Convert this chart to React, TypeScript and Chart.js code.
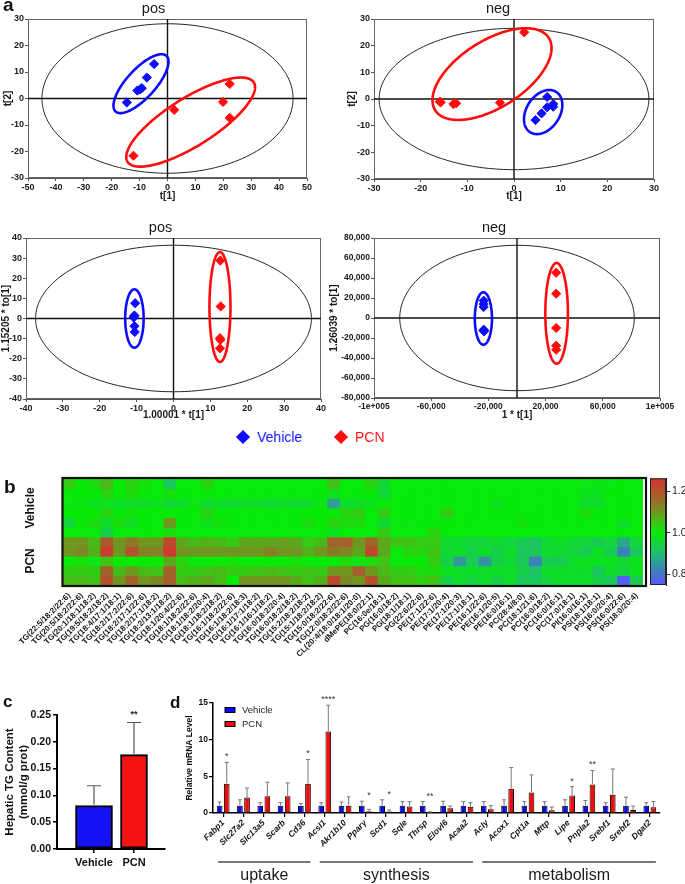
import React, { useEffect, useRef } from 'react';
import { Chart, registerables } from 'chart.js';

Chart.register(...registerables);

const FONT = "'Liberation Sans', Arial, Helvetica, sans-serif";
Chart.defaults.font.family = FONT;
Chart.defaults.color = '#1a1a1a';

// ================= Panel a : score plots =================
const posTopVehicle = [
  { x: -14.6, y: -1.5 }, { x: -10.8, y: 3.0 }, { x: -9.8, y: 3.5 },
  { x: -9.2, y: 3.9 }, { x: -7.4, y: 7.9 }, { x: -4.8, y: 13.0 },
];
const posTopPCN = [
  { x: -12.2, y: -21.6 }, { x: 2.4, y: -4.3 }, { x: 19.9, y: -1.3 },
  { x: 22.3, y: 5.5 }, { x: 22.3, y: -7.3 },
];
// ellipses: centre, end of one semi-axis, end of the other semi-axis (data units)
const posTopEllipses = [
  { group: 'all', c: [0, 0], a: [45, 0], b: [0, 28.2] },
  { group: 'Vehicle', c: [-9.5, 5.6], a: [-0.4, 16.1], b: [-5.7, 1.96] },
  { group: 'PCN', c: [8.3, -8.9], a: [30.9, 6.1], b: [13.0, -16.5] },
];

const negTopVehicle = [
  { x: 7.1, y: 0.75 }, { x: 4.6, y: -7.9 }, { x: 5.9, y: -5.4 },
  { x: 7.1, y: -3.1 }, { x: 8.4, y: -1.9 }, { x: 8.4, y: -2.9 },
];
const negTopPCN = [
  { x: -15.7, y: -1.25 }, { x: -15.9, y: -1.0 }, { x: -13.0, y: -1.9 },
  { x: -12.4, y: -1.6 }, { x: -3.0, y: -1.4 }, { x: 2.2, y: 25.0 },
];
const negTopEllipses = [
  { group: 'all', c: [0, 0], a: [28.9, 0], b: [0, 26.5] },
  { group: 'PCN', c: [-4.71, 9.34], a: [7.46, 22.9], b: [-0.88, -1.24] },
  { group: 'Vehicle', c: [6.25, -4.89], a: [9.07, 2.63], b: [9.24, -8.33] },
];

const posBotVehicle = [
  { x: -10.4, y: 7.6 }, { x: -10.6, y: 1.5 }, { x: -10.8, y: 0.5 },
  { x: -10.7, y: 1.0 }, { x: -10.6, y: -3.8 }, { x: -10.5, y: -6.7 },
];
const posBotPCN = [
  { x: 12.7, y: 28.8 }, { x: 12.8, y: 6.0 }, { x: 12.6, y: -9.8 },
  { x: 12.7, y: -10.6 }, { x: 12.6, y: -14.8 },
];
const posBotEllipses = [
  { group: 'all', c: [0, 0], a: [37.4, 0], b: [0, 36.4] },
  { group: 'Vehicle', c: [-10.6, 0], a: [-10.6, 14.5], b: [-8.1, 0] },
  { group: 'PCN', c: [12.6, 5.7], a: [12.6, 33.0], b: [15.45, 5.7] },
];

const negBotVehicle = [
  { x: -23300, y: 17300 }, { x: -23300, y: 14000 }, { x: -23300, y: 11000 },
  { x: -23300, y: -11700 }, { x: -23300, y: -12700 }, { x: -23000, y: -13300 },
];
const negBotPCN = [
  { x: 27400, y: 45300 }, { x: 27400, y: 24300 }, { x: 27400, y: -10000 },
  { x: 27400, y: -27700 }, { x: 27400, y: -31700 },
];
const negBotEllipses = [
  { group: 'all', c: [0, 0], a: [82000, 0], b: [0, 72700] },
  { group: 'Vehicle', c: [-23500, -500], a: [-23500, 25700], b: [-17500, -500] },
  { group: 'PCN', c: [27700, 4700], a: [27700, 55000], b: [35600, 4700] },
];

// ================= Panel b : heatmap =================
const lipidNames = [
  'TG(22:5/18:2/22:6)', 'TG(20:5/18:2/22:6)', 'TG(20:1/18:1/18:2)', 'TG(19:5/18:2/18:2)',
  'TG(18:4/17:1/18:1)', 'TG(18:2/17:2/22:6)', 'TG(18:2/17:1/22:6)', 'TG(18:2/17:1/18:2)',
  'TG(18:2/13:1/18:2)', 'TG(18:1/20:4/22:6)', 'TG(18:1/18:2/22:6)', 'TG(18:1/18:2/20:4)',
  'TG(18:1/18:2/18:2)', 'TG(16:1/18:2/22:6)', 'TG(16:1/18:2/18:3)', 'TG(16:1/17:1/18:2)',
  'TG(16:1/16:1/18:2)', 'TG(16:0/18:2/20:4)', 'TG(16:0/18:2/18:2)', 'TG(15:2/18:2/18:2)',
  'TG(15:1/18:2/18:2)', 'TG(15:0/18:2/22:6)', 'TG(12:0/18:2/22:6)', 'CL(20:4/18:0/18:1/20:0)',
  'dMePE(18:0/22:1)', 'PC(16:0e/18:1)', 'PG(16:0/18:2)', 'PG(18:1/18:1)', 'PG(22:6/22:6)',
  'PE(17:1/22:6)', 'PE(17:1/20:4)', 'PE(17:1/20:3)', 'PE(17:1/18:1)', 'PE(16:1/22:6)',
  'PE(16:1/20:5)', 'PE(16:0/16:1)', 'PC(28:4/8:0)', 'PC(18:1/21:6)', 'PC(16:0/18:2)',
  'PC(16:0/16:1)', 'PC(17:0/18:1)', 'PI(16:0/16:1)', 'PS(18:1/18:1)', 'PS(16:0/20:4)',
  'PS(16:0/22:6)', 'PS(18:0/20:4)',
];
const heatVehicle1 = [1.04, 1.0, 1.02, 1.06, 1.0, 1.03, 1.01, 1.0, 0.92, 1.0, 1.0, 1.03, 1.0, 1.0, 1.0, 1.0, 1.0, 1.0, 1.0, 1.0, 1.0, 1.05,
  1.0, 1.0, 1.03, 0.96, 1.0, 1.0, 1.0, 1.0, 1.0, 1.0, 1.0, 1.0, 1.0, 1.0, 1.0, 1.0, 1.0, 1.0, 1.0, 0.99, 0.99, 0.99, 1.0, 1.0];
const heatVehicle2 = [1.0, 1.0, 1.0, 1.03, 1.0, 1.02, 1.0, 1.0, 1.01, 1.0, 1.0, 1.0, 1.0, 1.0, 1.0, 1.0, 1.0, 1.0, 1.0, 1.0, 1.0, 0.98,
  1.0, 1.0, 1.0, 0.95, 1.0, 1.0, 1.0, 1.0, 1.0, 1.0, 1.0, 1.0, 1.0, 1.0, 1.0, 1.0, 1.0, 1.0, 1.0, 0.98, 0.98, 1.0, 1.0, 1.0];
const heatVehicle3 = [0.99, 0.99, 0.98, 0.98, 0.97, 0.97, 0.97, 0.98, 0.96, 0.97, 0.99, 0.96, 0.97, 0.96, 0.97, 0.97, 0.96, 0.97, 0.96, 0.97, 0.99, 0.86,
  0.97, 0.97, 0.98, 1.0, 1.0, 1.0, 1.0, 1.0, 1.0, 1.0, 1.0, 1.0, 0.98, 1.0, 1.0, 1.0, 1.0, 1.0, 1.0, 0.97, 0.97, 1.0, 1.0, 1.0];
const heatVehicle4 = [1.0, 1.0, 1.0, 1.03, 1.0, 1.01, 1.0, 1.0, 1.0, 1.0, 1.0, 1.03, 1.0, 1.0, 1.0, 1.0, 1.0, 1.0, 1.0, 1.0, 1.0, 1.0,
  1.03, 1.04, 1.0, 1.04, 1.0, 1.0, 1.0, 1.0, 1.04, 1.0, 1.0, 1.0, 1.0, 1.0, 1.0, 1.0, 1.0, 1.0, 1.0, 1.02, 1.0, 1.0, 1.0, 1.0];
const heatVehicle5 = [0.95, 1.0, 1.02, 0.97, 1.02, 0.97, 1.0, 1.0, 1.1, 1.0, 0.99, 0.98, 1.01, 1.0, 1.0, 1.0, 1.0, 1.0, 1.0, 1.02, 1.0, 1.03,
  1.02, 1.02, 1.0, 0.96, 0.99, 0.99, 1.0, 1.0, 1.0, 1.0, 1.0, 1.0, 1.0, 1.0, 1.01, 1.0, 1.0, 1.0, 1.0, 1.0, 1.0, 1.0, 0.97, 1.0];
const heatVehicle6 = [1.0, 1.0, 1.0, 0.94, 1.0, 1.0, 1.0, 1.0, 1.02, 1.0, 1.0, 1.0, 1.0, 1.0, 1.0, 1.0, 1.0, 1.0, 1.0, 1.0, 1.0, 0.98,
  1.0, 1.0, 1.0, 1.04, 1.0, 1.0, 1.0, 1.03, 1.0, 1.0, 1.0, 1.0, 1.0, 1.0, 1.0, 1.0, 1.0, 1.0, 1.0, 1.0, 1.0, 1.0, 1.0, 1.0];
const heatPCN1 = [1.1, 1.1, 1.06, 1.19, 1.1, 1.14, 1.1, 1.1, 1.22, 1.08, 1.06, 1.07, 1.06, 1.04, 1.08, 1.08, 1.08, 1.09, 1.08, 1.04, 1.06, 1.17,
  1.18, 1.1, 1.17, 1.08, 1.05, 1.05, 1.04, 1.04, 0.96, 0.96, 0.95, 0.95, 0.96, 0.95, 0.93, 0.91, 0.96, 0.97, 0.96, 0.95, 0.93, 0.95, 0.87, 0.95];
const heatPCN2 = [1.1, 1.12, 1.07, 1.24, 1.1, 1.2, 1.13, 1.13, 1.25, 1.1, 1.1, 1.1, 1.1, 1.1, 1.1, 1.1, 1.13, 1.1, 1.1, 1.07, 1.1, 1.14,
  1.12, 1.08, 1.22, 1.08, 1.0, 1.03, 1.03, 1.05, 0.96, 0.97, 0.94, 0.97, 0.94, 0.97, 0.92, 0.92, 0.96, 0.96, 0.95, 0.93, 0.97, 0.93, 0.82, 0.92];
const heatPCN3 = [1.0, 1.01, 0.99, 1.05, 1.0, 1.0, 1.0, 1.0, 1.08, 1.03, 1.0, 1.0, 1.0, 1.01, 1.0, 1.0, 1.0, 1.0, 1.01, 1.0, 1.0, 1.0,
  1.02, 0.99, 1.02, 1.05, 1.0, 1.0, 1.0, 1.04, 0.94, 0.85, 0.93, 0.84, 0.94, 0.96, 0.92, 0.82, 0.93, 0.93, 0.97, 0.98, 0.98, 0.98, 0.96, 0.98];
const heatPCN4 = [1.04, 1.04, 1.04, 1.17, 1.06, 1.1, 1.06, 1.05, 1.17, 1.04, 1.04, 1.05, 1.06, 1.04, 1.04, 1.05, 1.06, 1.05, 1.04, 1.05, 1.04, 1.1,
  1.1, 1.18, 1.1, 1.06, 1.04, 1.04, 1.02, 1.02, 0.98, 0.97, 0.97, 0.97, 0.97, 0.97, 0.94, 0.91, 0.97, 0.97, 0.97, 0.97, 0.92, 0.97, 0.95, 0.98];
const heatPCN5 = [1.06, 1.06, 1.05, 1.2, 1.1, 1.17, 1.1, 1.12, 1.18, 1.06, 1.07, 1.08, 1.06, 1.0, 1.1, 1.1, 1.1, 1.1, 1.08, 1.05, 1.07, 1.22,
  1.12, 1.1, 1.2, 1.08, 1.05, 1.05, 1.04, 1.05, 0.94, 0.97, 0.95, 0.97, 0.94, 0.97, 0.92, 0.92, 0.95, 0.97, 0.97, 0.97, 0.94, 0.92, 0.76, 0.93];
const heatRows = [heatVehicle1, heatVehicle2, heatVehicle3, heatVehicle4, heatVehicle5, heatVehicle6,
  heatPCN1, heatPCN2, heatPCN3, heatPCN4, heatPCN5];
const heatRowGroups = [
  { label: 'Vehicle', from: 0, to: 6 },
  { label: 'PCN', from: 6, to: 11 },
];
const colorbarRange = [0.747, 1.263];
const colorbarTicks = [0.8, 1.0, 1.2];

// ================= Panel c =================
const tgGroups = ['Vehicle', 'PCN'];
const tgMean = [0.081, 0.176];
const tgSd = [0.037, 0.060];
const tgStars = ['', '**'];

// ================= Panel d =================
const genes = ['Fabp1', 'Slc27a2', 'Slc13a5', 'Scarb', 'Cd36', 'Acsl1', 'Akr1b10', 'Pparγ', 'Scd1', 'Sqle', 'Thrsp',
  'Elovl6', 'Acaa2', 'Acly', 'Acox1', 'Cpt1a', 'Mttp', 'Lipe', 'Pnpla2', 'Srebf1', 'Srebf2', 'Dgat2'];
const vehicleMrna = [1, 1, 1, 1, 1, 1, 1, 1, 1, 1, 1, 1, 1, 1, 1, 1, 1, 1, 1, 1, 1, 1];
const vehicleMrnaErr = [0.5, 0.8, 0.4, 0.4, 0.3, 0.4, 0.5, 0.6, 0.8, 0.55, 0.55, 0.6, 0.55, 0.55, 0.8, 0.55, 0.55, 0.8, 0.7, 0.4, 1.15, 0.4];
const pcnMrna = [4.0, 2.1, 2.3, 2.3, 4.0, 11.1, 1.0, 0.25, 0.2, 0.9, 0.05, 0.65, 0.85, 0.5, 3.3, 2.8, 0.36, 2.4, 3.9, 2.5, 0.4, 0.8];
const pcnMrnaErr = [2.9, 1.3, 1.9, 1.8, 3.3, 3.6, 1.2, 0.25, 0.2, 0.65, 0.1, 0.3, 0.55, 0.5, 2.9, 2.4, 0.45, 1.2, 1.9, 3.5, 0.55, 0.75];
const geneStars = ['*', '', '', '', '*', '****', '', '*', '*', '', '**', '', '', '', '', '', '', '*', '**', '', '', ''];
const geneGroups = [
  { label: 'uptake', first: 0, last: 4 },
  { label: 'synthesis', first: 5, last: 12 },
  { label: 'metabolism', first: 13, last: 21 },
];

// ================= styles =================
const BLUE = '#0c0cff';
const RED = '#ff0c0c';
const ellStyle: Record<string, { color: string; width: number }> = {
  all: { color: '#222', width: 1 },
  Vehicle: { color: BLUE, width: 2.6 },
  PCN: { color: RED, width: 2.6 },
};
const cmapStops: [number, number[]][] = [
  [0.75, [88, 88, 250]], [0.82, [60, 130, 185]], [0.9, [30, 190, 110]], [0.97, [14, 222, 40]],
  [1.0, [8, 235, 8]], [1.05, [62, 195, 22]], [1.1, [112, 150, 32]], [1.17, [160, 100, 42]], [1.25, [206, 56, 46]],
];
function heatColor(v: number): string {
  if (v <= cmapStops[0][0]) return `rgb(${cmapStops[0][1].join(',')})`;
  for (let i = 1; i < cmapStops.length; i++) {
    const [v1, c1] = cmapStops[i];
    if (v <= v1) {
      const [v0, c0] = cmapStops[i - 1];
      const t = (v - v0) / (v1 - v0);
      const c = c0.map((k, j) => Math.round(k + (c1[j] - k) * t));
      return `rgb(${c.join(',')})`;
    }
  }
  return `rgb(${cmapStops[cmapStops.length - 1][1].join(',')})`;
}

// ================= plugins =================
const pcaDecor = (ellipses: any[]) => ({
  id: 'pcaDecor',
  beforeDatasetsDraw(chart: any) {
    const { ctx, chartArea: ca, scales } = chart;
    const xs = scales.x, ys = scales.y;
    ctx.save();
    ctx.strokeStyle = '#666';
    ctx.lineWidth = 1;
    ctx.strokeRect(ca.left + 0.5, ca.top + 0.5, ca.right - ca.left - 1, ca.bottom - ca.top - 1);
    ctx.strokeStyle = '#111';
    ctx.lineWidth = 1.4;
    const x0 = xs.getPixelForValue(0), y0 = ys.getPixelForValue(0);
    ctx.beginPath();
    ctx.moveTo(ca.left, y0); ctx.lineTo(ca.right, y0);
    ctx.moveTo(x0, ca.top); ctx.lineTo(x0, ca.bottom);
    ctx.stroke();
    ellipses.forEach((e) => {
      const cx = xs.getPixelForValue(e.c[0]), cy = ys.getPixelForValue(e.c[1]);
      const ax = xs.getPixelForValue(e.a[0]) - cx, ay = ys.getPixelForValue(e.a[1]) - cy;
      const bx = xs.getPixelForValue(e.b[0]) - cx, by = ys.getPixelForValue(e.b[1]) - cy;
      ctx.beginPath();
      for (let k = 0; k <= 240; k++) {
        const t = (k / 240) * Math.PI * 2;
        const px = cx + ax * Math.cos(t) + bx * Math.sin(t);
        const py = cy + ay * Math.cos(t) + by * Math.sin(t);
        if (k === 0) ctx.moveTo(px, py); else ctx.lineTo(px, py);
      }
      ctx.closePath();
      const st = ellStyle[e.group];
      ctx.strokeStyle = st.color;
      ctx.lineWidth = st.width;
      ctx.stroke();
    });
    ctx.restore();
  },
});

function pcaConfig(p: any) {
  const tickFont = { size: p.tickSize, weight: 'bold' };
  const axis = (range: number[]) => ({
    type: 'linear', min: range[0], max: range[1],
    ticks: { stepSize: range[2], font: tickFont, color: '#1a1a1a', padding: 1, callback: p.fmt || ((v: number) => String(v)) },
    grid: { drawOnChartArea: false, tickLength: 3, color: '#555' },
    border: { color: '#555', width: 1 },
  });
  return {
    type: 'scatter',
    data: {
      datasets: [
        { label: 'Vehicle', data: p.vehicle, pointStyle: 'rectRot', pointRadius: 4.6, backgroundColor: BLUE, borderColor: BLUE, borderWidth: 1 },
        { label: 'PCN', data: p.pcn, pointStyle: 'rectRot', pointRadius: 4.6, backgroundColor: RED, borderColor: RED, borderWidth: 1 },
      ],
    },
    options: {
      responsive: false, animation: false, events: [],
      layout: { padding: { left: 0, top: 0, right: p.padRight, bottom: 0 } },
      plugins: {
        legend: { display: false }, tooltip: { enabled: false },
        title: { display: true, text: p.title, font: { size: 14.5, weight: 'normal' }, color: '#1a1a1a', padding: { top: 0, bottom: 1.6 } },
      },
      scales: {
        x: { ...axis(p.xRange), title: { display: true, text: p.xTitle, font: { size: 10, weight: 'bold' }, padding: 0 },
          afterFit: (s: any) => { s.height = p.xAxisH; } },
        y: { ...axis(p.yRange), title: { display: true, text: p.yTitle, font: { size: 10, weight: 'bold' }, padding: { top: p.yTitlePad, bottom: 0 } },
          afterFit: (s: any) => { s.width = p.yAxisW; } },
      },
    },
    plugins: [pcaDecor(p.ellipses)],
  };
}

const fmtBig = (v: number) => (Math.abs(v) >= 100000 ? (v < 0 ? '-' : '') + '1e+005' : v.toLocaleString('en-US'));

function heatConfig() {
  return {
    type: 'bar',
    data: {
      labels: lipidNames,
      datasets: heatRows.map((row, r) => ({
        label: 'row' + r,
        data: row.map(() => 1),
        backgroundColor: row.map(heatColor),
        borderWidth: 0,
        inflateAmount: 0.5,
        barPercentage: 1,
        categoryPercentage: 1,
        stack: 'heat',
      })),
    },
    options: {
      responsive: false, animation: false, events: [],
      layout: { padding: { left: 63, top: 9, right: 42, bottom: 0 } },
      plugins: { legend: { display: false }, tooltip: { enabled: false } },
      scales: {
        x: {
          stacked: true,
          ticks: { autoSkip: false, minRotation: 45, maxRotation: 45, font: { size: 8, weight: 'bold' }, color: '#111', padding: 6 },
          grid: { display: false, drawTicks: false },
          border: { display: false },
          afterFit: (s: any) => { s.height = 100; },
        },
        y: { stacked: true, reverse: true, min: 0, max: 11, display: false },
      },
    },
    plugins: [{
      id: 'heatDecor',
      afterDatasetsDraw(chart: any) {
        const { ctx, chartArea: ca, scales } = chart;
        ctx.save();
        ctx.strokeStyle = '#111';
        ctx.lineWidth = 2.2;
        ctx.strokeRect(ca.left - 0.5, ca.top - 1, ca.right - ca.left + 3.5, ca.bottom - ca.top + 2);
        ctx.fillStyle = '#111';
        ctx.font = `bold 12px ${FONT}`;
        ctx.textAlign = 'center';
        ctx.textBaseline = 'middle';
        heatRowGroups.forEach((g) => {
          const yc = scales.y.getPixelForValue((g.from + g.to) / 2);
          ctx.save();
          ctx.translate(ca.left - 32, yc);
          ctx.rotate(-Math.PI / 2);
          ctx.fillText(g.label, 0, 0);
          ctx.restore();
        });
        ctx.restore();
      },
    }],
  };
}

function colorbarConfig() {
  const [lo, hi] = colorbarRange;
  return {
    type: 'bar',
    data: {
      labels: ['scale'],
      datasets: [{
        data: [[lo, hi]],
        barPercentage: 1, categoryPercentage: 1, borderWidth: 0,
        backgroundColor: (c: any) => {
          const chart = c.chart;
          if (!chart.chartArea) return '#0f0';
          const ys = chart.scales.y;
          const g = chart.ctx.createLinearGradient(0, ys.getPixelForValue(lo), 0, ys.getPixelForValue(hi));
          g.addColorStop(0, heatColor(lo));
          cmapStops.forEach(([v]) => { if (v > lo && v < hi) g.addColorStop((v - lo) / (hi - lo), heatColor(v)); });
          g.addColorStop(1, heatColor(hi));
          return g;
        },
      }],
    },
    options: {
      responsive: false, animation: false, events: [],
      layout: { padding: { left: 10, top: 8, right: 0, bottom: 10 } },
      plugins: { legend: { display: false }, tooltip: { enabled: false } },
      scales: {
        x: { display: false },
        y: {
          position: 'right', min: lo, max: hi,
          afterBuildTicks: (s: any) => { s.ticks = colorbarTicks.map((v) => ({ value: v })); },
          ticks: { callback: (v: number) => v.toFixed(1), font: { size: 10.5 }, color: '#222', padding: 2 },
          grid: { drawOnChartArea: false, tickLength: 4, color: '#333' },
          border: { color: '#222' },
          afterFit: (s: any) => { s.width = 19; },
        },
      },
    },
    plugins: [{
      id: 'cbFrame',
      afterDatasetsDraw(chart: any) {
        const { ctx, chartArea: ca } = chart;
        ctx.save();
        ctx.strokeStyle = '#222';
        ctx.lineWidth = 1;
        ctx.strokeRect(ca.left + 0.5, ca.top + 0.5, ca.right - ca.left - 1, ca.bottom - ca.top - 1);
        ctx.restore();
      },
    }],
  };
}

function tgConfig() {
  return {
    type: 'bar',
    data: {
      datasets: [
        { label: tgGroups[0], data: [{ x: 1, y: tgMean[0] }], backgroundColor: '#1212f5', borderColor: '#000', borderWidth: 2, barThickness: 37, grouped: false, borderSkipped: false },
        { label: tgGroups[1], data: [{ x: 2, y: tgMean[1] }], backgroundColor: '#f51212', borderColor: '#000', borderWidth: 2, barThickness: 27, grouped: false, borderSkipped: false },
      ],
    },
    options: {
      responsive: false, animation: false, events: [],
      layout: { padding: { left: 0, top: 25, right: 7, bottom: 0 } },
      plugins: { legend: { display: false }, tooltip: { enabled: false } },
      scales: {
        x: {
          type: 'linear', min: 0.075, max: 2.775, offset: false, bounds: 'data', grace: 0,
          afterDataLimits: (s: any) => { s.min = 0.075; s.max = 2.775; },
          afterBuildTicks: (s: any) => { s.ticks = tgGroups.map((_, i) => ({ value: i + 1 })); },
          ticks: { callback: (v: number) => tgGroups[v - 1], font: { size: 11, weight: 'bold' }, color: '#111', padding: 3 },
          grid: { offset: false, drawOnChartArea: false, tickLength: 4, color: '#000', lineWidth: 1.5 },
          border: { color: '#000', width: 2 },
          afterFit: (s: any) => { s.height = 35; },
        },
        y: {
          min: 0, max: 0.25,
          ticks: { stepSize: 0.05, callback: (v: number) => v.toFixed(2), font: { size: 10.5, weight: 'bold' }, color: '#111', padding: 2 },
          grid: { drawOnChartArea: false, tickLength: 4, color: '#000', lineWidth: 1.5 },
          border: { color: '#000', width: 2 },
          title: { display: true, text: ['Hepatic TG Content', '(mmol/g prot)'], font: { size: 11.5, weight: 'bold' }, color: '#111', padding: { top: 3.2, bottom: 0 } },
          afterFit: (s: any) => { s.width = 57; },
        },
      },
    },
    plugins: [{
      id: 'tgErr',
      afterDatasetsDraw(chart: any) {
        const { ctx, scales } = chart;
        ctx.save();
        chart.data.datasets.forEach((_: any, i: number) => {
          const bar = chart.getDatasetMeta(i).data[0];
          const top = scales.y.getPixelForValue(tgMean[i] + tgSd[i]);
          ctx.strokeStyle = '#555';
          ctx.lineWidth = 1.2;
          ctx.beginPath();
          ctx.moveTo(bar.x, bar.y - 1); ctx.lineTo(bar.x, top);
          ctx.moveTo(bar.x - 7, top); ctx.lineTo(bar.x + 7, top);
          ctx.stroke();
          if (tgStars[i]) {
            ctx.fillStyle = '#222';
            ctx.font = `bold 9px ${FONT}`;
            ctx.textAlign = 'center';
            ctx.textBaseline = 'bottom';
            ctx.fillText(tgStars[i], bar.x, top - 3);
          }
        });
        ctx.restore();
      },
    }],
  };
}

function mrnaConfig() {
  const errs = [vehicleMrnaErr, pcnMrnaErr];
  const means = [vehicleMrna, pcnMrna];
  return {
    type: 'bar',
    data: {
      labels: genes,
      datasets: [
        { label: 'Vehicle', data: vehicleMrna, backgroundColor: '#0a0af0', borderColor: '#000', borderWidth: 1, barPercentage: 0.8, categoryPercentage: 0.7 },
        { label: 'PCN', data: pcnMrna, backgroundColor: '#f00a0a', borderColor: '#000', borderWidth: 1, barPercentage: 0.8, categoryPercentage: 0.7 },
      ],
    },
    options: {
      responsive: false, animation: false, events: [],
      layout: { padding: { left: 0, top: 13, right: 25, bottom: 0 } },
      plugins: { legend: { display: false }, tooltip: { enabled: false } },
      scales: {
        x: {
          ticks: { autoSkip: false, minRotation: 45, maxRotation: 45, font: { size: 8.5, weight: 'bold', style: 'italic' }, color: '#111', padding: 1 },
          grid: { offset: false, drawOnChartArea: false, tickLength: 4, color: '#000', lineWidth: 1.2 },
          border: { color: '#000', width: 1.5 },
          afterFit: (s: any) => { s.height = 71; },
        },
        y: {
          min: 0, max: 15,
          ticks: { stepSize: 5, font: { size: 8.5, weight: 'bold' }, color: '#111', padding: 1 },
          grid: { drawOnChartArea: false, tickLength: 4, color: '#000', lineWidth: 1.2 },
          border: { color: '#000', width: 1.5 },
          title: { display: true, text: 'Relative mRNA Level', font: { size: 8.5, weight: 'bold' }, color: '#111', padding: { top: 13, bottom: 0 } },
          afterFit: (s: any) => { s.width = 41; },
        },
      },
    },
    plugins: [{
      id: 'mrnaDecor',
      afterDatasetsDraw(chart: any) {
        const { ctx, scales, chartArea: ca } = chart;
        ctx.save();
        // error bars
        [0, 1].forEach((d) => {
          const meta = chart.getDatasetMeta(d);
          meta.data.forEach((bar: any, i: number) => {
            const top = scales.y.getPixelForValue(means[d][i] + errs[d][i]);
            ctx.strokeStyle = '#777';
            ctx.lineWidth = 1;
            ctx.beginPath();
            ctx.moveTo(bar.x, bar.y); ctx.lineTo(bar.x, top);
            ctx.moveTo(bar.x - 2, top); ctx.lineTo(bar.x + 2, top);
            ctx.stroke();
          });
        });
        // stars
        const pcnMeta = chart.getDatasetMeta(1);
        ctx.fillStyle = '#333';
        ctx.font = `9px ${FONT}`;
        ctx.textAlign = 'center';
        ctx.textBaseline = 'bottom';
        geneStars.forEach((s, i) => {
          if (!s) return;
          const v = Math.max(vehicleMrna[i] + vehicleMrnaErr[i], pcnMrna[i] + pcnMrnaErr[i]);
          ctx.fillText(s, pcnMeta.data[i].x, scales.y.getPixelForValue(v) - 1);
        });
        // legend
        ctx.font = `9.5px ${FONT}`;
        ctx.textAlign = 'left';
        ctx.textBaseline = 'middle';
        chart.data.datasets.forEach((ds: any, i: number) => {
          const yy = ca.top + 7 + i * 14;
          ctx.fillStyle = ds.backgroundColor;
          ctx.fillRect(ca.left + 12, yy - 2.5, 10, 5);
          ctx.strokeStyle = '#000';
          ctx.lineWidth = 1;
          ctx.strokeRect(ca.left + 12, yy - 2.5, 10, 5);
          ctx.fillStyle = '#222';
          ctx.fillText(ds.label, ca.left + 29, yy);
        });
        // group brackets
        const yLine = chart.height - 22;
        geneGroups.forEach((g) => {
          const x1 = scales.x.getPixelForValue(g.first) - 5;
          const x2 = scales.x.getPixelForValue(g.last) + 6;
          ctx.strokeStyle = '#777';
          ctx.lineWidth = 2;
          ctx.beginPath();
          ctx.moveTo(x1, yLine); ctx.lineTo(x2, yLine);
          ctx.stroke();
          ctx.fillStyle = '#1a1a1a';
          ctx.font = `16px ${FONT}`;
          ctx.textAlign = 'center';
          ctx.textBaseline = 'middle';
          ctx.fillText(g.label, (x1 + x2) / 2, yLine + 14);
        });
        ctx.restore();
      },
    }],
  };
}

// ================= components =================
function ChartCanvas({ left, top, width, height, config }: { left: number; top: number; width: number; height: number; config: () => any }) {
  const ref = useRef<HTMLCanvasElement | null>(null);
  useEffect(() => {
    if (!ref.current) return;
    const chart = new Chart(ref.current, config());
    return () => chart.destroy();
  }, []);
  return <canvas ref={ref} width={width} height={height} style={{ position: 'absolute', left, top, width, height }} />;
}

const panelLabel = (text: string, left: number, top: number, size: number) => (
  <div style={{ position: 'absolute', left, top, fontFamily: FONT, fontWeight: 'bold', fontSize: size, lineHeight: 1, color: '#111' }}>{text}</div>
);

const diamond = (cx: number, cy: number, color: string) => (
  <div style={{ position: 'absolute', left: cx - 5, top: cy - 5, width: 10, height: 10, background: color, transform: 'rotate(45deg)' }} />
);

export default function App() {
  return (
    <div style={{ position: 'absolute', left: 0, top: 0, width: 685, height: 884, background: '#fff', overflow: 'hidden' }}>
      <ChartCanvas left={0} top={0} width={342} height={202} config={() => pcaConfig({
        title: 'pos', xTitle: 't[1]', yTitle: 't[2]', vehicle: posTopVehicle, pcn: posTopPCN, ellipses: posTopEllipses,
        xRange: [-50, 50, 10], yRange: [-30, 30, 10], yAxisW: 28, xAxisH: 24, padRight: 35, yTitlePad: 2, tickSize: 9,
      })} />
      <ChartCanvas left={342} top={0} width={343} height={202} config={() => pcaConfig({
        title: 'neg', xTitle: 't[1]', yTitle: 't[2]', vehicle: negTopVehicle, pcn: negTopPCN, ellipses: negTopEllipses,
        xRange: [-30, 30, 10], yRange: [-30, 30, 10], yAxisW: 32, xAxisH: 23, padRight: 31, yTitlePad: 4, tickSize: 9,
      })} />
      <ChartCanvas left={0} top={219} width={335} height={202} config={() => pcaConfig({
        title: 'pos', xTitle: '1.00001 * t[1]', yTitle: '1.15205 * to[1]', vehicle: posBotVehicle, pcn: posBotPCN, ellipses: posBotEllipses,
        xRange: [-40, 40, 10], yRange: [-40, 40, 10], yAxisW: 26, xAxisH: 22, padRight: 14, yTitlePad: 0, tickSize: 9,
      })} />
      <ChartCanvas left={328} top={219} width={357} height={202} config={() => pcaConfig({
        title: 'neg', xTitle: '1 * t[1]', yTitle: '1.26039 * to[1]', vehicle: negBotVehicle, pcn: negBotPCN, ellipses: negBotEllipses,
        xRange: [-100000, 100000, 40000], yRange: [-80000, 80000, 20000], fmt: fmtBig,
        yAxisW: 46, xAxisH: 23, padRight: 25, yTitlePad: 0, tickSize: 8.5,
      })} />
      {panelLabel('a', 3, -5, 19)}
      {diamond(243, 437, BLUE)}
      <div style={{ position: 'absolute', left: 257, top: 429, fontFamily: FONT, fontSize: 14, lineHeight: '16px', color: '#1a1aff' }}>Vehicle</div>
      {diamond(341, 437, RED)}
      <div style={{ position: 'absolute', left: 355, top: 429, fontFamily: FONT, fontSize: 14, lineHeight: '16px', color: '#ff1a1a' }}>PCN</div>

      {panelLabel('b', 4, 477, 19)}
      <ChartCanvas left={0} top={470} width={685} height={215} config={heatConfig} />
      <ChartCanvas left={640} top={470} width={45} height={125} config={colorbarConfig} />

      {panelLabel('c', 3, 693, 17)}
      <ChartCanvas left={0} top={690} width={172} height={194} config={tgConfig} />
      {panelLabel('d', 170, 694, 17)}
      <ChartCanvas left={172} top={690} width={513} height={194} config={mrnaConfig} />
    </div>
  );
}
